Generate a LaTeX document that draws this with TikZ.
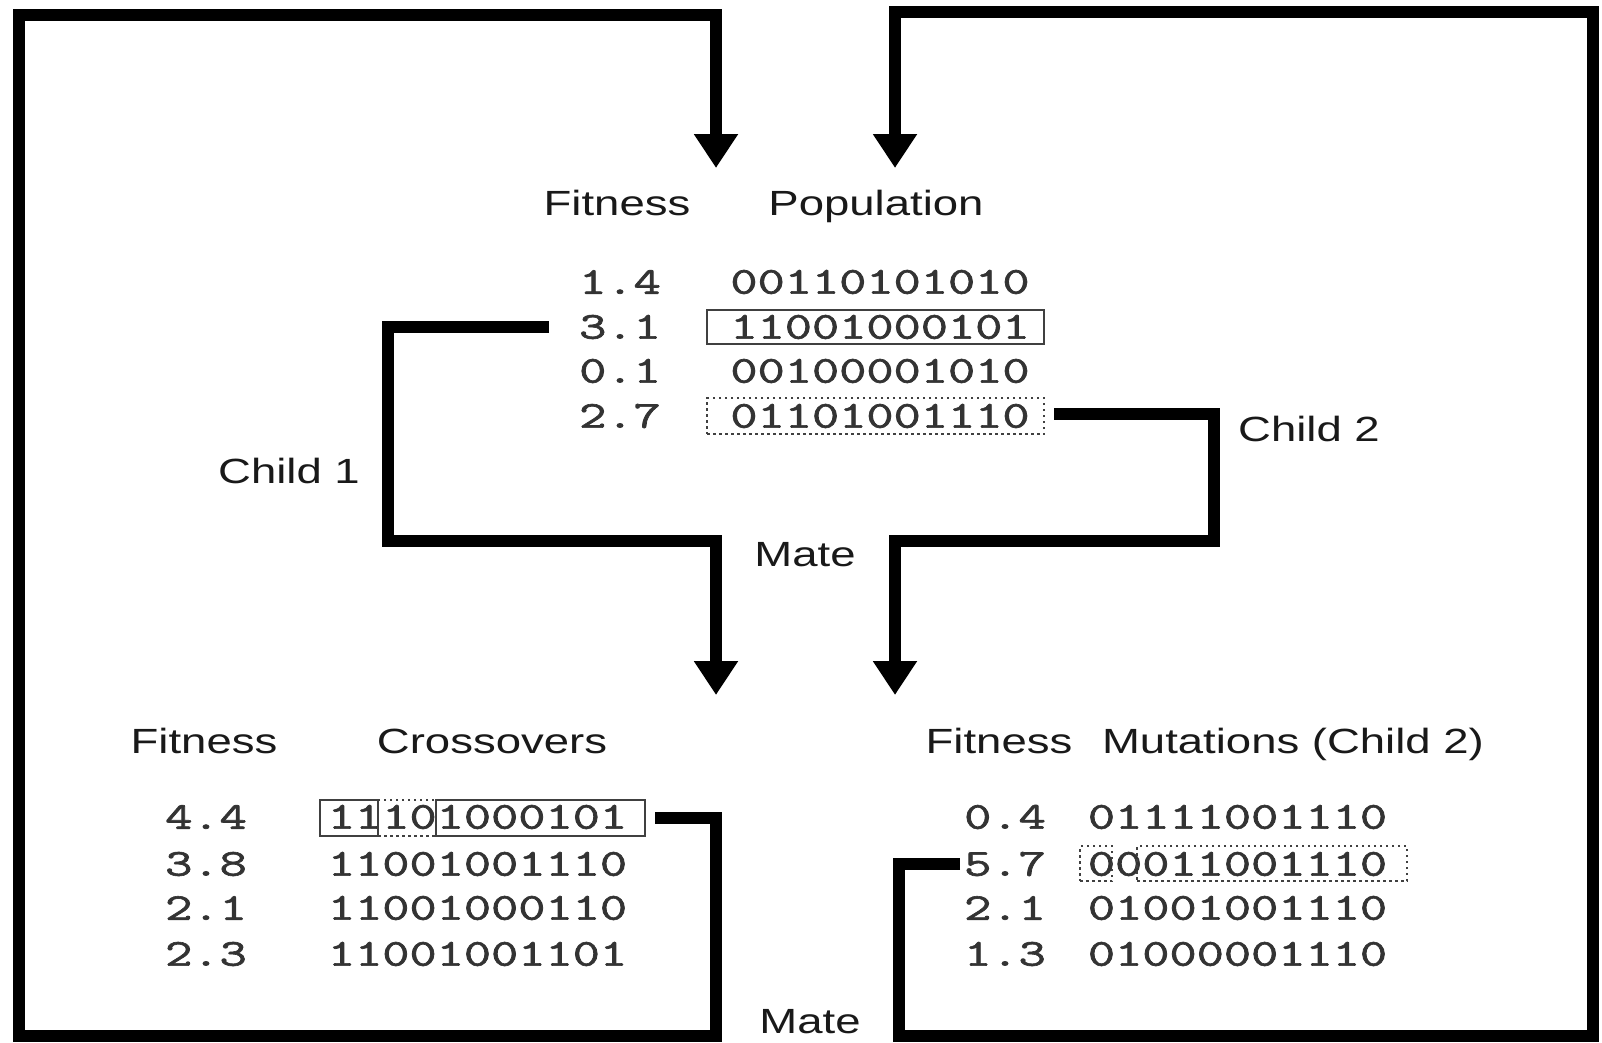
\documentclass[tikz,border=0pt]{standalone}
\usepackage{fontspec}
\usepackage{graphicx}
\usetikzlibrary{arrows.meta}
\newfontfamily\hvfont{Liberation Sans}
\newfontfamily\monof[RawFeature={embolden=1.6}]{Latin Modern Mono}
\newcommand{\hs}[1]{\scalebox{1.3}[1]{#1}}
\newcommand{\ms}[1]{\scalebox{1.39}[1]{#1}}
\begin{document}
\begin{tikzpicture}[x=1pt,y=-1pt,
  conn/.style={line width=12pt, draw=black},
  arr/.style={-{Triangle[width=42pt,length=34pt]}},
  head/.style={font=\hvfont\fontsize{35}{40}\selectfont, text=black!90, anchor=base, inner sep=0pt},
  lab/.style={font=\hvfont\fontsize{35}{40}\selectfont, text=black!90, inner sep=0pt},
  num/.style={font=\monof\fontsize{38}{42}\selectfont, text=black!80, inner sep=0pt},
  sbox/.style={draw=black!75, line width=2.5pt, inner sep=0pt},
  dbox/.style={draw=black!75, line width=2.5pt, dash pattern=on 2.5pt off 3.5pt, inner sep=0pt},
]
\useasboundingbox[fill=white] (0,0) rectangle (1602,1042);

% ---------- Population block ----------
\node[head] (pfit) at (617,215) {\hs{Fitness}};
\node[head] (ppop) at (876,215) {\hs{Population}};
\node[num] (p1f) at (620,282) {\ms{1.4}};
\node[num] (p1b) at (880,282) {\ms{00110101010}};
\node[num] (p2f) at (620,327) {\ms{3.1}};
\node[num] (p2b) at (880,327) {\ms{11001000101}};
\node[num] (p3f) at (620,371) {\ms{0.1}};
\node[num] (p3b) at (880,371) {\ms{00100001010}};
\node[num] (p4f) at (620,416) {\ms{2.7}};
\node[num] (p4b) at (880,416) {\ms{01101001110}};
\node[sbox, minimum width=337pt, minimum height=34pt] (p2box) at (875.5,327) {};
\node[dbox, minimum width=337pt, minimum height=36pt] (p4box) at (875.5,416) {};

% ---------- Crossover block ----------
\node[head] (cfit) at (204,753) {\hs{Fitness}};
\node[head] (ccro) at (492,753) {\hs{Crossovers}};
\node[num] (c1f) at (206,817) {\ms{4.4}};
\node[num] (c1b) at (477.5,817) {\ms{11101000101}};
\node[num] (c2f) at (206,864) {\ms{3.8}};
\node[num] (c2b) at (477.5,864) {\ms{11001001110}};
\node[num] (c3f) at (206,908) {\ms{2.1}};
\node[num] (c3b) at (477.5,908) {\ms{11001000110}};
\node[num] (c4f) at (206,954) {\ms{2.3}};
\node[num] (c4b) at (477.5,954) {\ms{11001001101}};
\node[sbox, minimum width=58pt, minimum height=36pt] (cxA) at (349,818) {};
\node[sbox, minimum width=209pt, minimum height=36pt] (cxC) at (540.5,818) {};
\node[dbox, minimum width=58pt, minimum height=36pt] (cxB) at (407,818) {};

% ---------- Mutation block ----------
\node[head] (mfit) at (999,753) {\hs{Fitness}};
\node[head] (mmut) at (1293,753) {\hs{Mutations (Child 2)}};
\node[num] (m1f) at (1005,817) {\ms{0.4}};
\node[num] (m1b) at (1237.5,817) {\ms{01111001110}};
\node[num] (m2f) at (1005,864) {\ms{5.7}};
\node[num] (m2b) at (1237.5,864) {\ms{00011001110}};
\node[num] (m3f) at (1005,908) {\ms{2.1}};
\node[num] (m3b) at (1237.5,908) {\ms{01001001110}};
\node[num] (m4f) at (1005,954) {\ms{1.3}};
\node[num] (m4b) at (1237.5,954) {\ms{01000001110}};
\node[dbox, minimum width=32pt, minimum height=35pt] (mA) at (1096,863.5) {};
\node[dbox, minimum width=270pt, minimum height=35pt] (mB) at (1272,863.5) {};

% ---------- Labels ----------
\node[lab] (child1) at (289,471) {\hs{Child 1}};
\node[lab] (child2) at (1309,429) {\hs{Child 2}};
\node[lab] (mate1) at (805,555) {\hs{Mate}};
\node[lab] (mate2) at (810,1022) {\hs{Mate}};

% ---------- Arrow targets ----------
\coordinate (top1) at (716,168);
\coordinate (top2) at (895,168);
\coordinate (in1) at (716,695);
\coordinate (in2) at (895,695);

% ---------- Connectors ----------
\draw[conn, arr] ([xshift=-30pt]p2f.west) -| (388,541) -| (in1);
\draw[conn, arr] ([xshift=9pt]p4box.east |- 0,414) -| (1214,541) -| (in2);
\draw[conn, arr] ([xshift=9pt]cxC.east) -| (716,1036) -| (19,15) -| (top1);
\draw[conn, arr] ([xshift=-4pt]m2f.west) -| (899,1036) -| (1593,12) -| (top2);
\end{tikzpicture}
\end{document}
